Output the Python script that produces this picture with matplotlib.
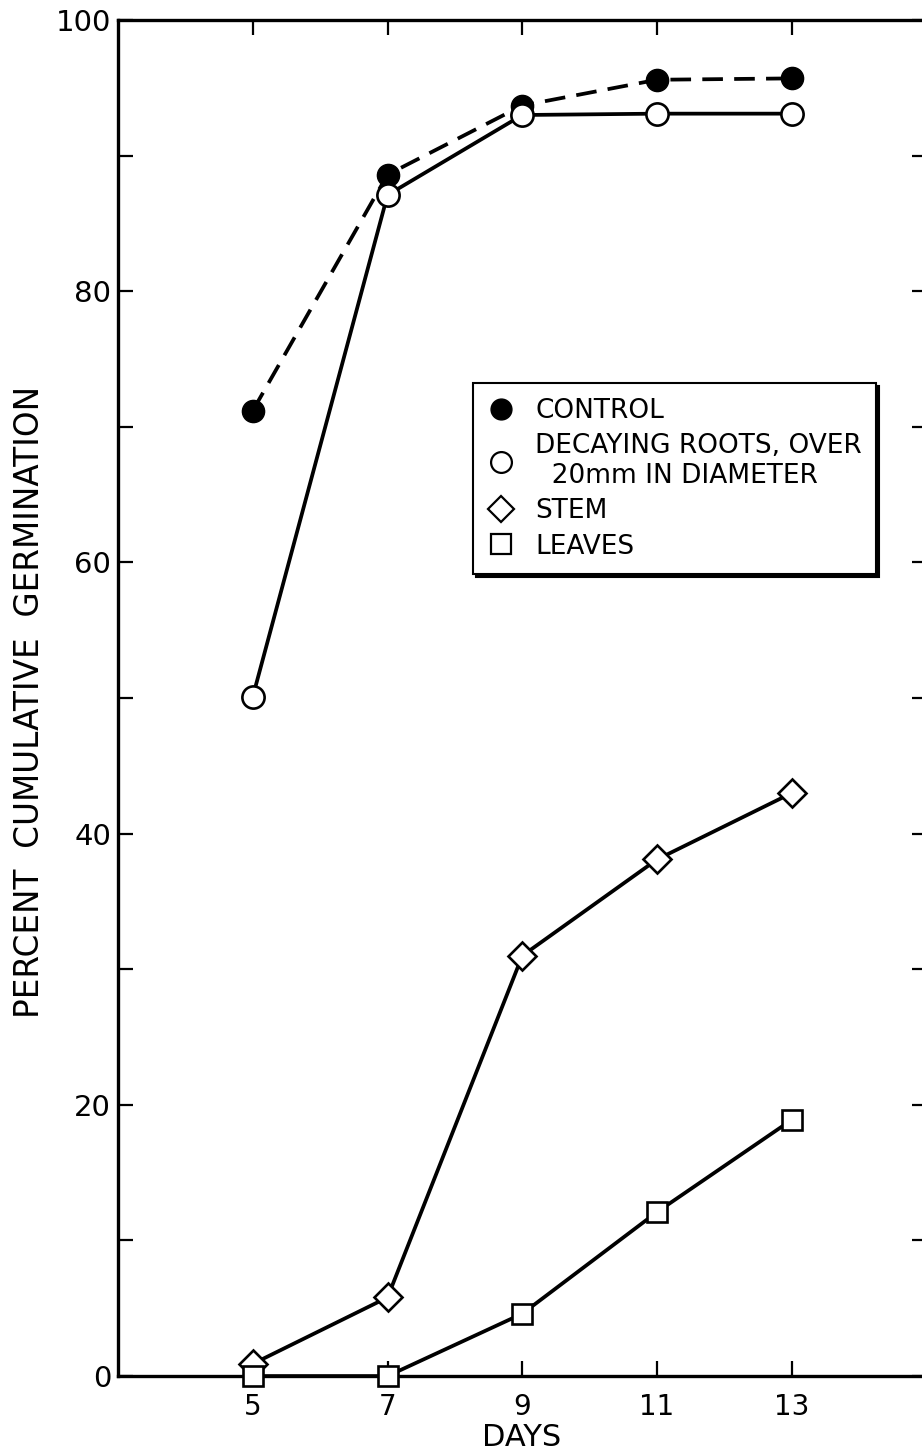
import numpy as np
import matplotlib
matplotlib.use('Agg')
import matplotlib.pyplot as plt
from matplotlib.lines import Line2D

plt.rcParams['font.family'] = ['DejaVu Sans']

days = [5, 7, 9, 11, 13]
control = [71.2, 88.6, 93.7, 95.6, 95.7]
roots = [50.1, 87.1, 93.0, 93.1, 93.1]
stem = [0.9, 5.8, 31.0, 38.1, 43.0]
leaves = [0.0, 0.0, 4.6, 12.1, 18.9]

y_major = [0, 20, 40, 60, 80, 100]
y_minor = [10, 30, 50, 70, 90]
x_labels = ['5', '7', '9', '11', '13']

labels = ['CONTROL', 'DECAYING ROOTS, OVER\n  20mm IN DIAMETER', 'STEM', 'LEAVES']

fig = plt.figure(figsize=(9.22, 14.56), dpi=100)
ax = fig.add_axes([0.128, 0.0549, 0.877, 0.9313])

lw = 2.7
ax.plot(days, control, color='black', lw=lw, dashes=(5.5, 3.0),
        marker='o', ms=16, mfc='black', mec='black', zorder=3)
ax.plot(days, roots, color='black', lw=lw, marker='o', ms=16,
        mfc='white', mec='black', mew=1.9, zorder=4)
ax.plot(days, stem, color='black', lw=lw, marker='D', ms=14,
        mfc='white', mec='black', mew=1.9, zorder=3)
ax.plot(days, leaves, color='black', lw=lw, marker='s', ms=15,
        mfc='white', mec='black', mew=1.9, zorder=4, clip_on=False)

ax.set_xlim(3, 15)
ax.set_ylim(0, 100)
ax.set_xticks(days)
ax.set_xticklabels(x_labels)
ax.set_yticks(y_major)
ax.set_yticks(y_minor, minor=True)

for side in ['left', 'bottom', 'top', 'right']:
    ax.spines[side].set_linewidth(2.4)

ax.tick_params(which='both', direction='in', length=11, width=1.6,
               top=True, right=True)
ax.tick_params(axis='x', labelsize=20, pad=12)
ax.tick_params(axis='y', labelsize=21, pad=5)

fig.text(30 / 922, 1 - 702 / 1456, 'PERCENT  CUMULATIVE  GERMINATION',
         rotation=90, ha='center', va='center', fontsize=23.5)
fig.text(522 / 922, 1 - 1438 / 1456, 'DAYS', ha='center', va='center',
         fontsize=22)

handles = [
    Line2D([], [], ls='none', marker='o', ms=15, mfc='black', mec='black'),
    Line2D([], [], ls='none', marker='o', ms=15, mfc='white', mec='black', mew=1.6),
    Line2D([], [], ls='none', marker='D', ms=13, mfc='white', mec='black', mew=1.6),
    Line2D([], [], ls='none', marker='s', ms=14, mfc='white', mec='black', mew=1.6),
]
leg = ax.legend(handles, labels, loc='upper left', bbox_to_anchor=(0.439, 0.732),
                borderaxespad=0, fontsize=19, frameon=True, fancybox=False,
                edgecolor='black', framealpha=1, handlelength=1.0,
                handletextpad=0.8, labelspacing=0.35, borderpad=0.55,
                shadow={'facecolor': 'black', 'edgecolor': 'black', 'alpha': 1})
leg.get_frame().set_linewidth(1.5)

fig.savefig('out.png', dpi=100)
